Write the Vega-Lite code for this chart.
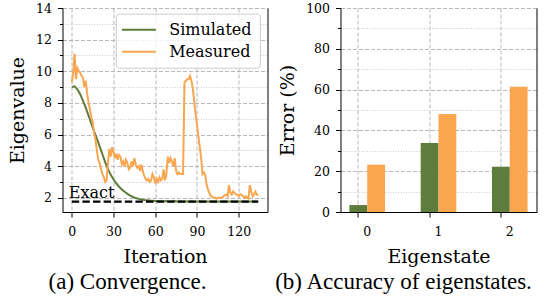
{
 "$schema": "https://vega.github.io/schema/vega-lite/v6.json",
 "padding": {"left": 8.5, "top": 2, "right": 2, "bottom": 2},
 "background": "white",
 "spacing": 7,
 "datasets": {
  "curves": [
   {"iteration":0,"series":"Simulated","eigenvalue":9.0},{"iteration":2,"series":"Simulated","eigenvalue":9.05},{"iteration":4,"series":"Simulated","eigenvalue":8.85},{"iteration":6,"series":"Simulated","eigenvalue":8.55},{"iteration":8,"series":"Simulated","eigenvalue":8.15},{"iteration":10,"series":"Simulated","eigenvalue":7.7},{"iteration":12,"series":"Simulated","eigenvalue":7.2},{"iteration":14,"series":"Simulated","eigenvalue":6.7},{"iteration":16,"series":"Simulated","eigenvalue":6.2},{"iteration":18,"series":"Simulated","eigenvalue":5.75},{"iteration":20,"series":"Simulated","eigenvalue":5.25},{"iteration":22,"series":"Simulated","eigenvalue":4.75},{"iteration":24,"series":"Simulated","eigenvalue":4.25},{"iteration":26,"series":"Simulated","eigenvalue":3.8},{"iteration":28,"series":"Simulated","eigenvalue":3.45},{"iteration":30,"series":"Simulated","eigenvalue":3.15},{"iteration":32,"series":"Simulated","eigenvalue":2.9},{"iteration":34,"series":"Simulated","eigenvalue":2.7},{"iteration":36,"series":"Simulated","eigenvalue":2.52},{"iteration":38,"series":"Simulated","eigenvalue":2.38},{"iteration":40,"series":"Simulated","eigenvalue":2.25},{"iteration":42,"series":"Simulated","eigenvalue":2.14},{"iteration":44,"series":"Simulated","eigenvalue":2.05},{"iteration":46,"series":"Simulated","eigenvalue":1.98},{"iteration":48,"series":"Simulated","eigenvalue":1.93},{"iteration":50,"series":"Simulated","eigenvalue":1.89},{"iteration":52,"series":"Simulated","eigenvalue":1.86},{"iteration":54,"series":"Simulated","eigenvalue":1.84},{"iteration":56,"series":"Simulated","eigenvalue":1.82},{"iteration":58,"series":"Simulated","eigenvalue":1.81},{"iteration":60,"series":"Simulated","eigenvalue":1.8},{"iteration":62,"series":"Simulated","eigenvalue":1.79},{"iteration":64,"series":"Simulated","eigenvalue":1.8},{"iteration":66,"series":"Simulated","eigenvalue":1.78},{"iteration":68,"series":"Simulated","eigenvalue":1.79},{"iteration":70,"series":"Simulated","eigenvalue":1.77},{"iteration":72,"series":"Simulated","eigenvalue":1.78},{"iteration":74,"series":"Simulated","eigenvalue":1.79},{"iteration":76,"series":"Simulated","eigenvalue":1.77},{"iteration":78,"series":"Simulated","eigenvalue":1.78},{"iteration":80,"series":"Simulated","eigenvalue":1.77},{"iteration":82,"series":"Simulated","eigenvalue":1.78},{"iteration":84,"series":"Simulated","eigenvalue":1.77},{"iteration":86,"series":"Simulated","eigenvalue":1.78},{"iteration":88,"series":"Simulated","eigenvalue":1.76},{"iteration":90,"series":"Simulated","eigenvalue":1.77},{"iteration":92,"series":"Simulated","eigenvalue":1.78},{"iteration":94,"series":"Simulated","eigenvalue":1.77},{"iteration":96,"series":"Simulated","eigenvalue":1.76},{"iteration":98,"series":"Simulated","eigenvalue":1.77},{"iteration":100,"series":"Simulated","eigenvalue":1.77},{"iteration":102,"series":"Simulated","eigenvalue":1.76},{"iteration":104,"series":"Simulated","eigenvalue":1.77},{"iteration":106,"series":"Simulated","eigenvalue":1.76},{"iteration":108,"series":"Simulated","eigenvalue":1.77},{"iteration":110,"series":"Simulated","eigenvalue":1.76},{"iteration":112,"series":"Simulated","eigenvalue":1.77},{"iteration":114,"series":"Simulated","eigenvalue":1.76},{"iteration":116,"series":"Simulated","eigenvalue":1.76},{"iteration":118,"series":"Simulated","eigenvalue":1.77},{"iteration":120,"series":"Simulated","eigenvalue":1.76},{"iteration":122,"series":"Simulated","eigenvalue":1.76},{"iteration":124,"series":"Simulated","eigenvalue":1.77},{"iteration":126,"series":"Simulated","eigenvalue":1.76},{"iteration":128,"series":"Simulated","eigenvalue":1.76},{"iteration":130,"series":"Simulated","eigenvalue":1.77},{"iteration":132,"series":"Simulated","eigenvalue":1.76},{"iteration":134,"series":"Simulated","eigenvalue":1.76},
   {"iteration":0,"series":"Measured","eigenvalue":9.3},{"iteration":1,"series":"Measured","eigenvalue":9.9},{"iteration":2,"series":"Measured","eigenvalue":11.1},{"iteration":3,"series":"Measured","eigenvalue":9.5},{"iteration":4,"series":"Measured","eigenvalue":10.2},{"iteration":5,"series":"Measured","eigenvalue":10.0},{"iteration":6,"series":"Measured","eigenvalue":9.9},{"iteration":7,"series":"Measured","eigenvalue":9.7},{"iteration":8,"series":"Measured","eigenvalue":9.6},{"iteration":9,"series":"Measured","eigenvalue":9.0},{"iteration":10,"series":"Measured","eigenvalue":9.4},{"iteration":11,"series":"Measured","eigenvalue":8.6},{"iteration":12,"series":"Measured","eigenvalue":8.0},{"iteration":13,"series":"Measured","eigenvalue":7.6},{"iteration":14,"series":"Measured","eigenvalue":7.1},{"iteration":15,"series":"Measured","eigenvalue":6.8},{"iteration":16,"series":"Measured","eigenvalue":6.1},{"iteration":17,"series":"Measured","eigenvalue":5.7},{"iteration":18,"series":"Measured","eigenvalue":5.0},{"iteration":19,"series":"Measured","eigenvalue":4.4},{"iteration":20,"series":"Measured","eigenvalue":4.2},{"iteration":21,"series":"Measured","eigenvalue":3.8},{"iteration":22,"series":"Measured","eigenvalue":3.5},{"iteration":23,"series":"Measured","eigenvalue":3.3},{"iteration":24,"series":"Measured","eigenvalue":3.0},{"iteration":25,"series":"Measured","eigenvalue":3.1},{"iteration":26,"series":"Measured","eigenvalue":4.2},{"iteration":27,"series":"Measured","eigenvalue":5.1},{"iteration":28,"series":"Measured","eigenvalue":4.6},{"iteration":29,"series":"Measured","eigenvalue":5.2},{"iteration":30,"series":"Measured","eigenvalue":4.9},{"iteration":31,"series":"Measured","eigenvalue":4.5},{"iteration":32,"series":"Measured","eigenvalue":4.8},{"iteration":33,"series":"Measured","eigenvalue":4.4},{"iteration":34,"series":"Measured","eigenvalue":4.7},{"iteration":35,"series":"Measured","eigenvalue":4.6},{"iteration":36,"series":"Measured","eigenvalue":4.1},{"iteration":37,"series":"Measured","eigenvalue":4.3},{"iteration":38,"series":"Measured","eigenvalue":4.0},{"iteration":39,"series":"Measured","eigenvalue":4.4},{"iteration":40,"series":"Measured","eigenvalue":4.2},{"iteration":41,"series":"Measured","eigenvalue":3.8},{"iteration":42,"series":"Measured","eigenvalue":3.9},{"iteration":43,"series":"Measured","eigenvalue":4.3},{"iteration":44,"series":"Measured","eigenvalue":4.0},{"iteration":45,"series":"Measured","eigenvalue":4.5},{"iteration":46,"series":"Measured","eigenvalue":4.1},{"iteration":47,"series":"Measured","eigenvalue":3.9},{"iteration":48,"series":"Measured","eigenvalue":4.0},{"iteration":49,"series":"Measured","eigenvalue":3.7},{"iteration":50,"series":"Measured","eigenvalue":4.1},{"iteration":51,"series":"Measured","eigenvalue":3.7},{"iteration":52,"series":"Measured","eigenvalue":3.4},{"iteration":53,"series":"Measured","eigenvalue":3.2},{"iteration":54,"series":"Measured","eigenvalue":3.1},{"iteration":55,"series":"Measured","eigenvalue":3.2},{"iteration":56,"series":"Measured","eigenvalue":3.0},{"iteration":57,"series":"Measured","eigenvalue":3.1},{"iteration":58,"series":"Measured","eigenvalue":3.5},{"iteration":59,"series":"Measured","eigenvalue":3.3},{"iteration":60,"series":"Measured","eigenvalue":2.9},{"iteration":61,"series":"Measured","eigenvalue":3.2},{"iteration":62,"series":"Measured","eigenvalue":3.0},{"iteration":63,"series":"Measured","eigenvalue":3.3},{"iteration":64,"series":"Measured","eigenvalue":3.1},{"iteration":65,"series":"Measured","eigenvalue":3.2},{"iteration":66,"series":"Measured","eigenvalue":3.8},{"iteration":67,"series":"Measured","eigenvalue":3.1},{"iteration":68,"series":"Measured","eigenvalue":3.5},{"iteration":69,"series":"Measured","eigenvalue":4.6},{"iteration":70,"series":"Measured","eigenvalue":4.2},{"iteration":71,"series":"Measured","eigenvalue":4.5},{"iteration":72,"series":"Measured","eigenvalue":4.3},{"iteration":73,"series":"Measured","eigenvalue":4.0},{"iteration":74,"series":"Measured","eigenvalue":4.5},{"iteration":75,"series":"Measured","eigenvalue":3.7},{"iteration":76,"series":"Measured","eigenvalue":3.5},{"iteration":77,"series":"Measured","eigenvalue":3.6},{"iteration":78,"series":"Measured","eigenvalue":3.5},{"iteration":79,"series":"Measured","eigenvalue":3.5},{"iteration":80,"series":"Measured","eigenvalue":3.5},{"iteration":81,"series":"Measured","eigenvalue":9.3},{"iteration":82,"series":"Measured","eigenvalue":9.4},{"iteration":83,"series":"Measured","eigenvalue":9.5},{"iteration":84,"series":"Measured","eigenvalue":9.5},{"iteration":85,"series":"Measured","eigenvalue":9.7},{"iteration":86,"series":"Measured","eigenvalue":9.4},{"iteration":87,"series":"Measured","eigenvalue":8.9},{"iteration":88,"series":"Measured","eigenvalue":8.1},{"iteration":89,"series":"Measured","eigenvalue":7.3},{"iteration":90,"series":"Measured","eigenvalue":6.6},{"iteration":91,"series":"Measured","eigenvalue":5.9},{"iteration":92,"series":"Measured","eigenvalue":5.2},{"iteration":93,"series":"Measured","eigenvalue":4.5},{"iteration":94,"series":"Measured","eigenvalue":3.5},{"iteration":95,"series":"Measured","eigenvalue":3.6},{"iteration":96,"series":"Measured","eigenvalue":3.4},{"iteration":97,"series":"Measured","eigenvalue":2.8},{"iteration":98,"series":"Measured","eigenvalue":2.5},{"iteration":99,"series":"Measured","eigenvalue":2.3},{"iteration":100,"series":"Measured","eigenvalue":2.1},{"iteration":101,"series":"Measured","eigenvalue":2.05},{"iteration":102,"series":"Measured","eigenvalue":2.0},{"iteration":103,"series":"Measured","eigenvalue":2.0},{"iteration":104,"series":"Measured","eigenvalue":1.95},{"iteration":105,"series":"Measured","eigenvalue":2.0},{"iteration":106,"series":"Measured","eigenvalue":2.0},{"iteration":107,"series":"Measured","eigenvalue":2.0},{"iteration":108,"series":"Measured","eigenvalue":2.0},{"iteration":109,"series":"Measured","eigenvalue":2.1},{"iteration":110,"series":"Measured","eigenvalue":2.15},{"iteration":111,"series":"Measured","eigenvalue":2.2},{"iteration":112,"series":"Measured","eigenvalue":2.1},{"iteration":113,"series":"Measured","eigenvalue":2.8},{"iteration":114,"series":"Measured","eigenvalue":2.3},{"iteration":115,"series":"Measured","eigenvalue":2.2},{"iteration":116,"series":"Measured","eigenvalue":2.4},{"iteration":117,"series":"Measured","eigenvalue":2.3},{"iteration":118,"series":"Measured","eigenvalue":2.2},{"iteration":119,"series":"Measured","eigenvalue":2.2},{"iteration":120,"series":"Measured","eigenvalue":2.1},{"iteration":121,"series":"Measured","eigenvalue":2.2},{"iteration":122,"series":"Measured","eigenvalue":2.2},{"iteration":123,"series":"Measured","eigenvalue":2.1},{"iteration":124,"series":"Measured","eigenvalue":2.0},{"iteration":125,"series":"Measured","eigenvalue":2.1},{"iteration":126,"series":"Measured","eigenvalue":2.0},{"iteration":127,"series":"Measured","eigenvalue":1.95},{"iteration":128,"series":"Measured","eigenvalue":2.8},{"iteration":129,"series":"Measured","eigenvalue":2.4},{"iteration":130,"series":"Measured","eigenvalue":2.1},{"iteration":131,"series":"Measured","eigenvalue":2.2},{"iteration":132,"series":"Measured","eigenvalue":2.4},{"iteration":133,"series":"Measured","eigenvalue":2.2},{"iteration":134,"series":"Measured","eigenvalue":2.15}
  ],
  "exact": [{"start": 0, "end": 134, "eigenvalue": 1.75, "label": "Exact"}],
  "bars": [
   {"eigenstate": 0, "series": "Simulated", "error": 3.4},
   {"eigenstate": 0, "series": "Measured", "error": 23.2},
   {"eigenstate": 1, "series": "Simulated", "error": 33.8},
   {"eigenstate": 1, "series": "Measured", "error": 48.0},
   {"eigenstate": 2, "series": "Simulated", "error": 22.2},
   {"eigenstate": 2, "series": "Measured", "error": 61.4}
  ]
 },
 "config": {
  "view": {"stroke": null},
  "axis": {
   "labelFont": "DejaVu Serif", "labelFontSize": 12.5, "labelColor": "#000",
   "titleFont": "DejaVu Serif", "titleFontSize": 19, "titleFontWeight": "normal", "titleColor": "#000",
   "domainColor": "#000", "domainWidth": 1, "tickColor": "#000", "tickWidth": 1,
   "labelFlush": false, "labelOverlap": false, "gridWidth": 0.9
  },
  "title": {"font": "Liberation Serif", "fontSize": 23, "fontWeight": "normal", "color": "#000"}
 },
 "hconcat": [
  {
   "width": 205, "height": 204,
   "title": {"text": "(a) Convergence.", "orient": "bottom", "anchor": "middle", "frame": "group", "offset": 4, "dx": -37.5},
   "layer": [
    {
     "data": {"name": "curves"},
     "mark": {"type": "line", "strokeWidth": 2},
     "encoding": {
      "x": {"field": "iteration", "type": "quantitative", "title": "Iteration",
       "scale": {"domain": [-6.7, 140.7], "nice": false, "zero": false},
       "axis": {"values": [0,15,30,45,60,75,90,105,120,135],
        "labelExpr": "datum.value % 30 === 0 ? datum.label : ''",
        "tickSize": {"condition": {"test": "datum.value % 30 === 0", "value": 5}, "value": 3},
        "grid": true,
        "gridDash": {"condition": {"test": "datum.value % 30 === 0", "value": [4, 2]}, "value": [1, 1.6]},
        "gridColor": {"condition": {"test": "datum.value % 30 === 0", "value": "#b0b0b0"}, "value": "#c4c4c4"},
        "labelPadding": 8, "titlePadding": 10}},
      "y": {"field": "eigenvalue", "type": "quantitative", "title": "Eigenvalue",
       "scale": {"domain": [1.1, 14], "nice": false, "zero": false},
       "axis": {"values": [2,3,4,5,6,7,8,9,10,11,12,13,14],
        "labelExpr": "datum.value % 2 === 0 ? datum.label : ''",
        "tickSize": {"condition": {"test": "datum.value % 2 === 0", "value": 5}, "value": 3},
        "grid": true,
        "gridDash": {"condition": {"test": "datum.value % 2 === 0", "value": [4, 2]}, "value": [1, 1.6]},
        "gridColor": {"condition": {"test": "datum.value % 2 === 0", "value": "#b0b0b0"}, "value": "#c4c4c4"},
        "labelPadding": 6, "titlePadding": 8}},
      "color": {"field": "series", "type": "nominal",
       "scale": {"domain": ["Simulated", "Measured"], "range": ["#5e7d3c", "#f9a64f"]},
       "legend": {"title": null, "orient": "none", "legendX": 53.4, "legendY": 5.7, "padding": 8, "rowPadding": 6,
        "labelFont": "DejaVu Serif", "labelFontSize": 16, "labelColor": "#000",
        "symbolType": "M-2,0H4.8", "symbolSize": 100, "symbolStrokeWidth": 2, "labelOffset": 29.3,
        "strokeColor": "#cccccc", "fillColor": "rgba(255,255,255,0.8)", "cornerRadius": 3}}
     }
    },
    {
     "data": {"name": "exact"},
     "mark": {"type": "rule", "color": "#000", "strokeWidth": 2.2, "strokeDash": [7.4, 3.2]},
     "encoding": {
      "x": {"field": "start", "type": "quantitative", "title": "Iteration"},
      "x2": {"field": "end"},
      "y": {"field": "eigenvalue", "type": "quantitative", "axis": null}
     }
    },
    {
     "data": {"name": "exact"},
     "mark": {"type": "text", "align": "left", "baseline": "alphabetic", "dx": -3, "dy": -4, "font": "DejaVu Serif", "fontSize": 16, "color": "#000"},
     "encoding": {
      "x": {"field": "start", "type": "quantitative", "title": "Iteration"},
      "y": {"field": "eigenvalue", "type": "quantitative",
       "axis": {"orient": "right", "labels": false, "ticks": false, "grid": false, "title": null, "domainColor": "#000", "minExtent": 0, "maxExtent": 0}},
      "text": {"field": "label"}
     }
    }
   ],
   "resolve": {"axis": {"y": "independent"}}
  },
  {
   "width": 196, "height": 204,
   "title": {"text": "(b) Accuracy of eigenstates.", "orient": "bottom", "anchor": "middle", "frame": "group", "offset": 4, "dx": -35},
   "data": {"name": "bars"},
   "layer": [
    {
     "mark": {"type": "bar"},
     "encoding": {
      "x": {"field": "eigenstate", "type": "ordinal", "title": "Eigenstate",
       "scale": {"paddingInner": 0.5, "paddingOuter": 0.125},
       "axis": {"labelAngle": 0, "bandPosition": 0.25, "grid": true, "gridDash": [4, 2], "gridColor": "#b0b0b0", "tickSize": 5, "labelPadding": 8, "titlePadding": 10}},
      "xOffset": {"field": "series", "type": "nominal", "scale": {"domain": ["Simulated", "Measured"], "paddingInner": 0, "paddingOuter": 0}},
      "y": {"field": "error", "type": "quantitative", "title": "Error (%)",
       "scale": {"domain": [0, 100], "nice": false},
       "axis": {"values": [0,10,20,30,40,50,60,70,80,90,100],
        "labelExpr": "datum.value % 20 === 0 ? datum.label : ''",
        "tickSize": {"condition": {"test": "datum.value % 20 === 0", "value": 5}, "value": 3},
        "grid": true,
        "gridDash": {"condition": {"test": "datum.value % 20 === 0", "value": [4, 2]}, "value": [1, 1.6]},
        "gridColor": {"condition": {"test": "datum.value % 20 === 0", "value": "#b0b0b0"}, "value": "#c4c4c4"},
        "labelPadding": 6, "titlePadding": 8}},
      "color": {"field": "series", "type": "nominal",
       "scale": {"domain": ["Simulated", "Measured"], "range": ["#5e7d3c", "#f9a64f"]},
       "legend": {"title": null, "orient": "none", "legendX": 45.7, "legendY": 8.7, "padding": 5.5, "rowPadding": 8,
        "labelFont": "DejaVu Serif", "labelFontSize": 16, "labelColor": "#000",
        "symbolType": "M-1.38,-1H4.96V1H-1.38Z", "symbolSize": 100, "symbolStrokeWidth": 0, "symbolOpacity": 1, "labelOffset": 31.8,
        "strokeColor": "#cccccc", "fillColor": "rgba(255,255,255,0.8)", "cornerRadius": 3}}
     }
    },
    {
     "mark": {"type": "rule", "strokeOpacity": 0},
     "encoding": {
      "y": {"datum": 0, "type": "quantitative",
       "axis": {"orient": "right", "labels": false, "ticks": false, "grid": false, "title": null, "domainColor": "#000", "minExtent": 0, "maxExtent": 0}}
     }
    }
   ],
   "resolve": {"axis": {"y": "independent"}}
  }
 ]
}
